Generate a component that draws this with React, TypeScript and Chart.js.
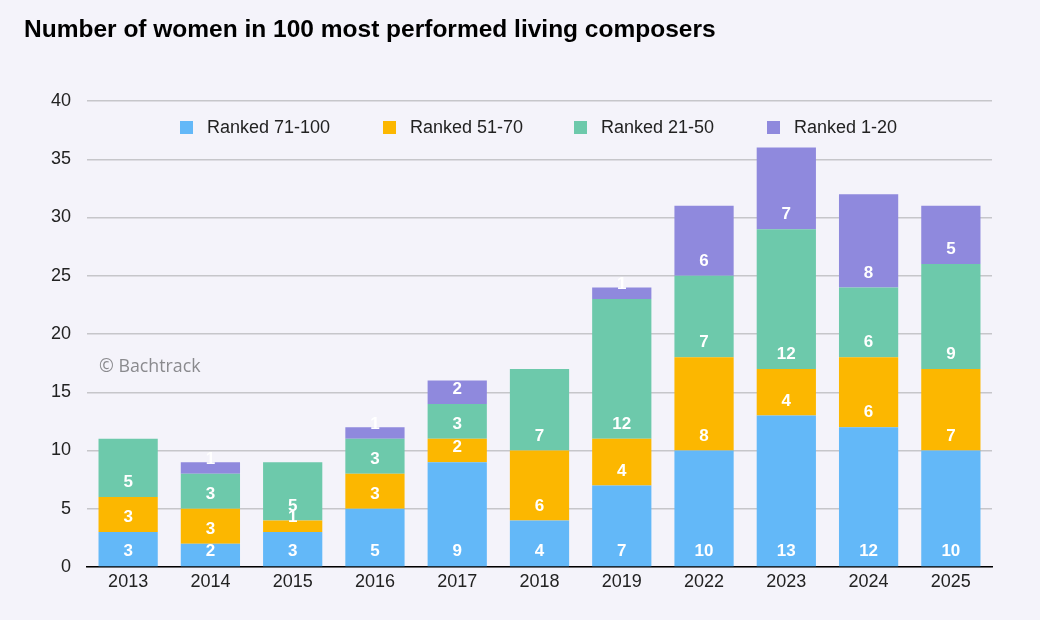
import React, { useEffect, useRef } from "react";
import { Chart, registerables } from "chart.js";

Chart.register(...registerables);

const years = ["2013", "2014", "2015", "2016", "2017", "2018", "2019", "2022", "2023", "2024", "2025"];
const ranked71to100 = [3, 2, 3, 5, 9, 4, 7, 10, 13, 12, 10];
const ranked51to70 = [3, 3, 1, 3, 2, 6, 4, 8, 4, 6, 7];
const ranked21to50 = [5, 3, 5, 3, 3, 7, 12, 7, 12, 6, 9];
const ranked1to20 = [0, 1, 0, 1, 2, 0, 1, 6, 7, 8, 5];
const seriesNames = ["Ranked 71-100", "Ranked 51-70", "Ranked 21-50", "Ranked 1-20"];
const seriesColors = ["#63b8f8", "#fcb700", "#6dc9ab", "#8f89dd"];
const titleText = "Number of women in 100 most performed living composers";
const watermark = "© Bachtrack";

const BG = "#f4f3fa";
const FONT = "'Liberation Sans', Arial, Helvetica, sans-serif";

const overlayPlugin = {
  id: "overlay",
  afterDatasetsDraw(chart: any) {
    const ctx = chart.ctx;
    ctx.save();
    ctx.fillStyle = "#ffffff";
    ctx.font = `bold 17px ${FONT}`;
    ctx.textAlign = "center";
    ctx.textBaseline = "middle";
    chart.data.datasets.forEach((ds: any, di: number) => {
      const meta = chart.getDatasetMeta(di);
      meta.data.forEach((bar: any, i: number) => {
        const v = ds.data[i];
        if (!v) return;
        ctx.fillText(String(v), bar.x, bar.base - 14.5);
      });
    });
    ctx.restore();
  },
  afterDraw(chart: any) {
    const ctx = chart.ctx;
    ctx.save();
    // title
    ctx.fillStyle = "#000000";
    ctx.font = `bold 24.5px ${FONT}`;
    ctx.textAlign = "left";
    ctx.textBaseline = "middle";
    ctx.fillText(titleText, 24, 30);
    // legend
    const xs = [180, 383, 574, 767];
    ctx.font = `18px ${FONT}`;
    seriesNames.forEach((n, i) => {
      ctx.fillStyle = seriesColors[i];
      ctx.fillRect(xs[i], 121, 13, 13);
      ctx.fillStyle = "#222222";
      ctx.fillText(n, xs[i] + 27, 128);
    });
    // watermark
    ctx.fillStyle = "#8a8a8e";
    ctx.font = `17.8px 'Open Sans', Lato, sans-serif`;
    ctx.fillText(watermark, 99, 367);
    ctx.restore();
  },
};

export default function App() {
  const ref = useRef<HTMLCanvasElement | null>(null);
  useEffect(() => {
    document.body.style.margin = "0";
    document.body.style.background = BG;
    const canvas = ref.current!;
    const data = [ranked71to100, ranked51to70, ranked21to50, ranked1to20];
    const chart = new Chart(canvas, {
      type: "bar",
      data: {
        labels: years,
        datasets: data.map((d, i) => ({
          label: seriesNames[i],
          data: d,
          backgroundColor: seriesColors[i],
          borderWidth: 0,
          barPercentage: 0.72,
          categoryPercentage: 1,
        })),
      },
      options: {
        animation: false,
        responsive: false,
        maintainAspectRatio: false,
        layout: { padding: { left: 0, right: 48, top: 101, bottom: 20 } },
        plugins: { legend: { display: false }, title: { display: false }, tooltip: { enabled: false } },
        scales: {
          x: {
            stacked: true,
            grid: { display: false },
            border: { color: "#000000", width: 1.5 },
            ticks: { color: "#222222", font: { family: FONT, size: 18 }, padding: -4 },
            afterFit(scale: any) {
              scale.height = 33;
            },
          },
          y: {
            stacked: true,
            min: 0,
            max: 40,
            ticks: { stepSize: 5, color: "#222222", font: { family: FONT, size: 18 }, padding: 16 },
            grid: { color: "#c6c6ca", lineWidth: 1.5, drawTicks: false },
            border: { display: false },
            afterFit(scale: any) {
              scale.width = 87;
            },
          },
        },
      },
      plugins: [overlayPlugin],
    });
    return () => chart.destroy();
  }, []);
  return (
    <div style={{ width: 1040, height: 620, background: BG }}>
      <canvas ref={ref} width={1040} height={620} style={{ width: 1040, height: 620, display: "block" }} />
    </div>
  );
}
